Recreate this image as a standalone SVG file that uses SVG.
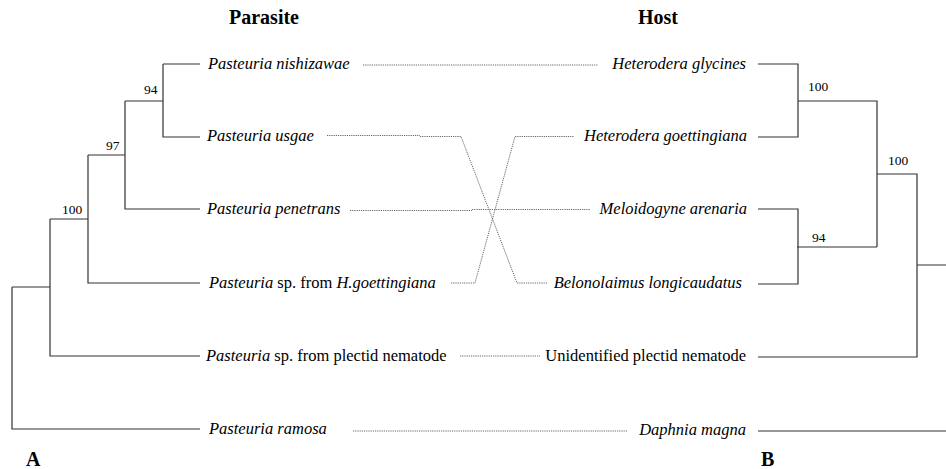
<svg xmlns="http://www.w3.org/2000/svg" width="946" height="469" viewBox="0 0 946 469">
<style>
text{font-family:"Liberation Serif","Times New Roman",serif;fill:#000}
.t{font-size:20px;font-weight:bold}
.lab{font-size:16.5px}
.it{font-style:italic}
.bs{font-size:13.5px}
.tree{fill:none;stroke:#333;stroke-width:1.2}
.dot{fill:none;stroke:#666;stroke-width:1;stroke-dasharray:1.2 1}
</style>
<rect width="946" height="469" fill="#fff"/>
<g id="titles">
<text class="t" x="229" y="24">Parasite</text>
<text class="t" x="638" y="24">Host</text>
<text class="t" x="26" y="466">A</text>
<text class="t" x="761" y="466">B</text>
</g>
<g id="parasite-tree">
<path class="tree" d="M12,287V429H200M12,287H50M50,219V356H200M50,219H88M88,155V283H200M88,155H125M125,101V209H200M125,101H163M163,64V137H200M163,64H200"/>
<text class="bs" x="62" y="214">100</text>
<text class="bs" x="106" y="150">97</text>
<text class="bs" x="144" y="94">94</text>
</g>
<g id="host-tree">
<path class="tree" d="M758,64H798V137H758M798,101H877V247M877,247H797M758,209H798V284H758M877,174H917V357H758M917,265H946M758,431H946"/>
<text class="bs" x="808" y="91">100</text>
<text class="bs" x="888" y="165">100</text>
<text class="bs" x="812" y="242">94</text>
</g>
<g id="p-nishizawae"><text class="lab it" x="208" y="69">Pasteuria nishizawae</text></g>
<g id="p-usgae"><text class="lab it" x="207" y="141">Pasteuria usgae</text></g>
<g id="p-penetrans"><text class="lab it" x="207" y="214">Pasteuria penetrans</text></g>
<g id="p-hgoett"><text class="lab" x="209" y="288"><tspan class="it">Pasteuria</tspan> sp. from <tspan class="it">H.goettingiana</tspan></text></g>
<g id="p-plectid"><text class="lab" x="206" y="361"><tspan class="it">Pasteuria</tspan> sp. from plectid nematode</text></g>
<g id="p-ramosa"><text class="lab it" x="209" y="434">Pasteuria ramosa</text></g>
<g id="h-glycines"><text class="lab it" x="746" y="69" text-anchor="end">Heterodera glycines</text></g>
<g id="h-goettingiana"><text class="lab it" x="747" y="141" text-anchor="end">Heterodera goettingiana</text></g>
<g id="h-meloidogyne"><text class="lab it" x="747" y="214" text-anchor="end">Meloidogyne arenaria</text></g>
<g id="h-belonolaimus"><text class="lab it" x="742" y="288" text-anchor="end">Belonolaimus longicaudatus</text></g>
<g id="h-plectid"><text class="lab" x="746" y="361" text-anchor="end">Unidentified plectid nematode</text></g>
<g id="h-daphnia"><text class="lab it" x="746" y="435" text-anchor="end">Daphnia magna</text></g>
<g id="connectors">
<path class="dot" d="M363,65H598"/>
<path class="dot" d="M327,135.5H420M420,136.5H461L517,283H547"/>
<path class="dot" d="M451,283H475L515,136.5H574"/>
<path class="dot" d="M350,210.5H472M472,209.5H590"/>
<path class="dot" d="M460,356H540"/>
<path class="dot" d="M353,431H628"/>
</g>
</svg>
